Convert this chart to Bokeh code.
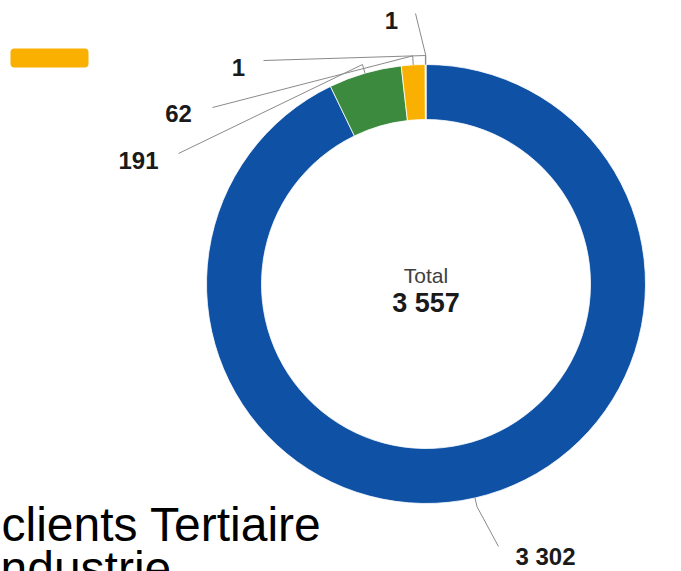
import math
from bokeh.plotting import figure
from bokeh.models import Range1d, ColumnDataSource
from bokeh.embed import file_html
from bokeh.resources import INLINE
from bokeh.core.properties import value

# ---- data ----
categories = ["Tertiaire", "Industrie", "Agriculture", "Autre A", "Autre B"]
values = [3302, 191, 62, 1, 1]
labels = ["3 302", "191", "62", "1", "1"]
colors = ["#0F52A5", "#3B8A3E", "#F9B000", "#8C8C8C", "#B0B0B0"]
center_title = "Total"
caption_lines = ["clients Tertiaire", "ndustrie"]

total = sum(values)
total_label = f"{total:,}".replace(",", " ")

# ---- layout (picture pixel coordinates) ----
W, H = 681, 571
def py(y):
    return H - y

cx, cy = 425.5, py(283.5)
R_OUT, R_IN = 219.5, 164.5
ELBOW = 9
label_pos = [(545, 556), (138, 160), (178, 113), (238, 67), (391, 20)]
line_end = [(498, 546), (178, 153), (212, 107), (263, 60), (415, 13)]

p = figure(width=W, height=H, output_backend="svg", toolbar_location=None,
           x_range=Range1d(0, W), y_range=Range1d(0, H),
           min_border=0)
p.axis.visible = False
p.grid.visible = False
p.outline_line_color = None
p.background_fill_color = "white"

# wedges
starts, ends, mids = [], [], []
cum = 0
for v in values:
    a0 = math.pi / 2 - 2 * math.pi * cum / total
    cum += v
    a1 = math.pi / 2 - 2 * math.pi * cum / total
    starts.append(a0)
    ends.append(a1)
    mids.append((a0 + a1) / 2)

src = ColumnDataSource(dict(cat=categories, val=values, start=starts, end=ends, color=colors))
p.annular_wedge(x=cx, y=cy, inner_radius=R_IN, outer_radius=R_OUT,
                start_angle="start", end_angle="end", direction="clock",
                fill_color="color", line_color="white", line_width=0.8, source=src)

# leader lines
xs, ys = [], []
for a, (ex, ey) in zip(mids, line_end):
    x0, y0 = cx + R_OUT * math.cos(a), cy + R_OUT * math.sin(a)
    x1, y1 = cx + (R_OUT + ELBOW) * math.cos(a), cy + (R_OUT + ELBOW) * math.sin(a)
    xs.append([x0, x1, ex])
    ys.append([y0, y1, py(ey)])
p.multi_line(xs=xs, ys=ys, line_color="#8A8A8A", line_width=1)

# value labels
p.text(x=[q[0] for q in label_pos], y=[py(q[1]) for q in label_pos], text=labels,
       text_font=value("Liberation Sans"), text_font_style="bold",
       text_font_size=value("24px"), text_color="#1A1A1A",
       text_align="center", text_baseline="middle")

# center total
p.text(x=[cx], y=[py(275)], text=[center_title], text_font=value("Liberation Sans"),
       text_font_size=value("21px"), text_color="#404040",
       text_align="center", text_baseline="middle")
p.text(x=[cx], y=[py(302)], text=[total_label], text_font=value("Liberation Sans"),
       text_font_style="bold", text_font_size=value("27px"), text_color="#1A1A1A",
       text_align="center", text_baseline="middle")

# legend swatch (partially visible legend)
p.quad(left=[10], right=[88], top=[py(48)], bottom=[py(67)],
       fill_color=colors[2], line_color=None, border_radius=4)

# caption text (cut off at the page edges, as in the source slide)
p.text(x=[1], y=[py(524)], text=[caption_lines[0]],
       text_font=value("Liberation Sans"), text_font_size=value("48px"),
       text_color="black", text_align="left", text_baseline="alphabetic")
p.text(x=[0], y=[py(541.5)], text=[caption_lines[1]],
       text_font=value("Liberation Sans"), text_font_size=value("48px"),
       text_color="black", text_align="left", text_baseline="top")

open("out.html", "w").write(file_html(p, INLINE))
